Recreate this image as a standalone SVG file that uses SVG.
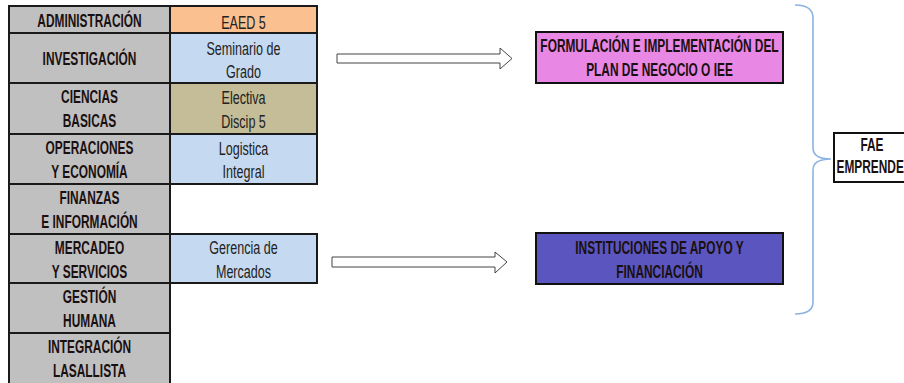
<svg xmlns="http://www.w3.org/2000/svg" width="904" height="383" viewBox="0 0 904 383">
<style>
.cell{stroke:#1a1a1a;stroke-width:2}
.gray{fill:#c0c0c0}
.lbl{font-family:"Liberation Sans",Arial,sans-serif;font-weight:bold;font-size:17.5px;fill:#1a1010;text-anchor:middle}
.crs{font-family:"Liberation Sans",Arial,sans-serif;font-size:18.5px;fill:#222;text-anchor:middle}
.arrow{fill:#fff;stroke:#444;stroke-width:1}
.box{stroke:#111;stroke-width:2}
</style>
<rect width="904" height="383" fill="#fff"/>
<g id="table">
<g id="row-administracion"><rect class="cell gray" x="9" y="6" width="161" height="27"/><rect class="cell" fill="#fac090" x="170" y="6" width="147" height="27"/><g transform="scale(0.68,1)"><text class="lbl" x="131.62" y="27">ADMINISTRACIÓN</text><text class="crs" x="358.09" y="29">EAED 5</text></g></g>
<g id="row-investigacion"><rect class="cell gray" x="9" y="33" width="161" height="50"/><rect class="cell" fill="#c5d9f1" x="170" y="33" width="147" height="50"/><g transform="scale(0.68,1)"><text class="lbl" x="131.62" y="65">INVESTIGACIÓN</text><text class="crs" x="358.09" y="55">Seminario de</text><text class="crs" x="358.09" y="78">Grado</text></g></g>
<g id="row-ciencias"><rect class="cell gray" x="9" y="83" width="161" height="51"/><rect class="cell" fill="#c4bd97" x="170" y="83" width="147" height="51"/><g transform="scale(0.68,1)"><text class="lbl" x="131.62" y="103">CIENCIAS</text><text class="lbl" x="131.62" y="127">BASICAS</text><text class="crs" x="358.09" y="104">Electiva</text><text class="crs" x="358.09" y="128">Discip 5</text></g></g>
<g id="row-operaciones"><rect class="cell gray" x="9" y="134" width="161" height="50"/><rect class="cell" fill="#c5d9f1" x="170" y="134" width="147" height="50"/><g transform="scale(0.68,1)"><text class="lbl" x="131.62" y="154">OPERACIONES</text><text class="lbl" x="131.62" y="178">Y ECONOMÍA</text><text class="crs" x="358.09" y="155">Logistica</text><text class="crs" x="358.09" y="178">Integral</text></g></g>
<g id="row-finanzas"><rect class="cell gray" x="9" y="184" width="161" height="50"/><g transform="scale(0.68,1)"><text class="lbl" x="131.62" y="204">FINANZAS</text><text class="lbl" x="131.62" y="228">E INFORMACIÓN</text></g></g>
<g id="row-mercadeo"><rect class="cell gray" x="9" y="234" width="161" height="49"/><rect class="cell" fill="#c5d9f1" x="170" y="234" width="147" height="49"/><g transform="scale(0.68,1)"><text class="lbl" x="131.62" y="254">MERCADEO</text><text class="lbl" x="131.62" y="278">Y SERVICIOS</text><text class="crs" x="358.09" y="254">Gerencia de</text><text class="crs" x="358.09" y="278">Mercados</text></g></g>
<g id="row-gestion"><rect class="cell gray" x="9" y="283" width="161" height="50"/><g transform="scale(0.68,1)"><text class="lbl" x="131.62" y="303">GESTIÓN</text><text class="lbl" x="131.62" y="327">HUMANA</text></g></g>
<g id="row-integracion"><rect class="cell gray" x="9" y="333" width="161" height="60"/><g transform="scale(0.68,1)"><text class="lbl" x="131.62" y="353">INTEGRACIÓN</text><text class="lbl" x="131.62" y="377">LASALLISTA</text></g></g>
</g>
<g id="connectors">
<polygon class="arrow" points="337,54 500,54 500,48 512,58.5 500,69 500,63 337,63"/>
<polygon class="arrow" points="332,257 495,257 495,252 507,262 495,273 495,267 332,267"/>
<path d="M795,5 Q813,5 813,18 L813,148 Q813,159 831,159 Q813,159 813,170 L813,302 Q813,314 795,314" fill="none" stroke="#8db3e2" stroke-width="1.6"/>
</g>
<g id="node-formulacion"><rect class="box" fill="#e887e4" x="536" y="32" width="247" height="51"/><g transform="scale(0.68,1)"><text class="lbl" x="969.85" y="52">FORMULACIÓN E IMPLEMENTACIÓN DEL</text><text class="lbl" x="969.85" y="76">PLAN DE NEGOCIO O IEE</text></g></g>
<g id="node-instituciones"><rect class="box" fill="#5a55bf" x="536" y="233" width="247" height="51"/><g transform="scale(0.68,1)"><text class="lbl" x="969.85" y="254" fill="#141430">INSTITUCIONES DE APOYO Y</text><text class="lbl" x="969.85" y="278">FINANCIACIÓN</text></g></g>
<g id="node-fae"><rect class="box" fill="#fff" x="834" y="133" width="80" height="49"/><g transform="scale(0.68,1)"><text class="lbl" x="1282.35" y="151">FAE</text><text class="lbl" x="1230.15" y="173" style="text-anchor:start">EMPRENDE</text></g></g>
</svg>
